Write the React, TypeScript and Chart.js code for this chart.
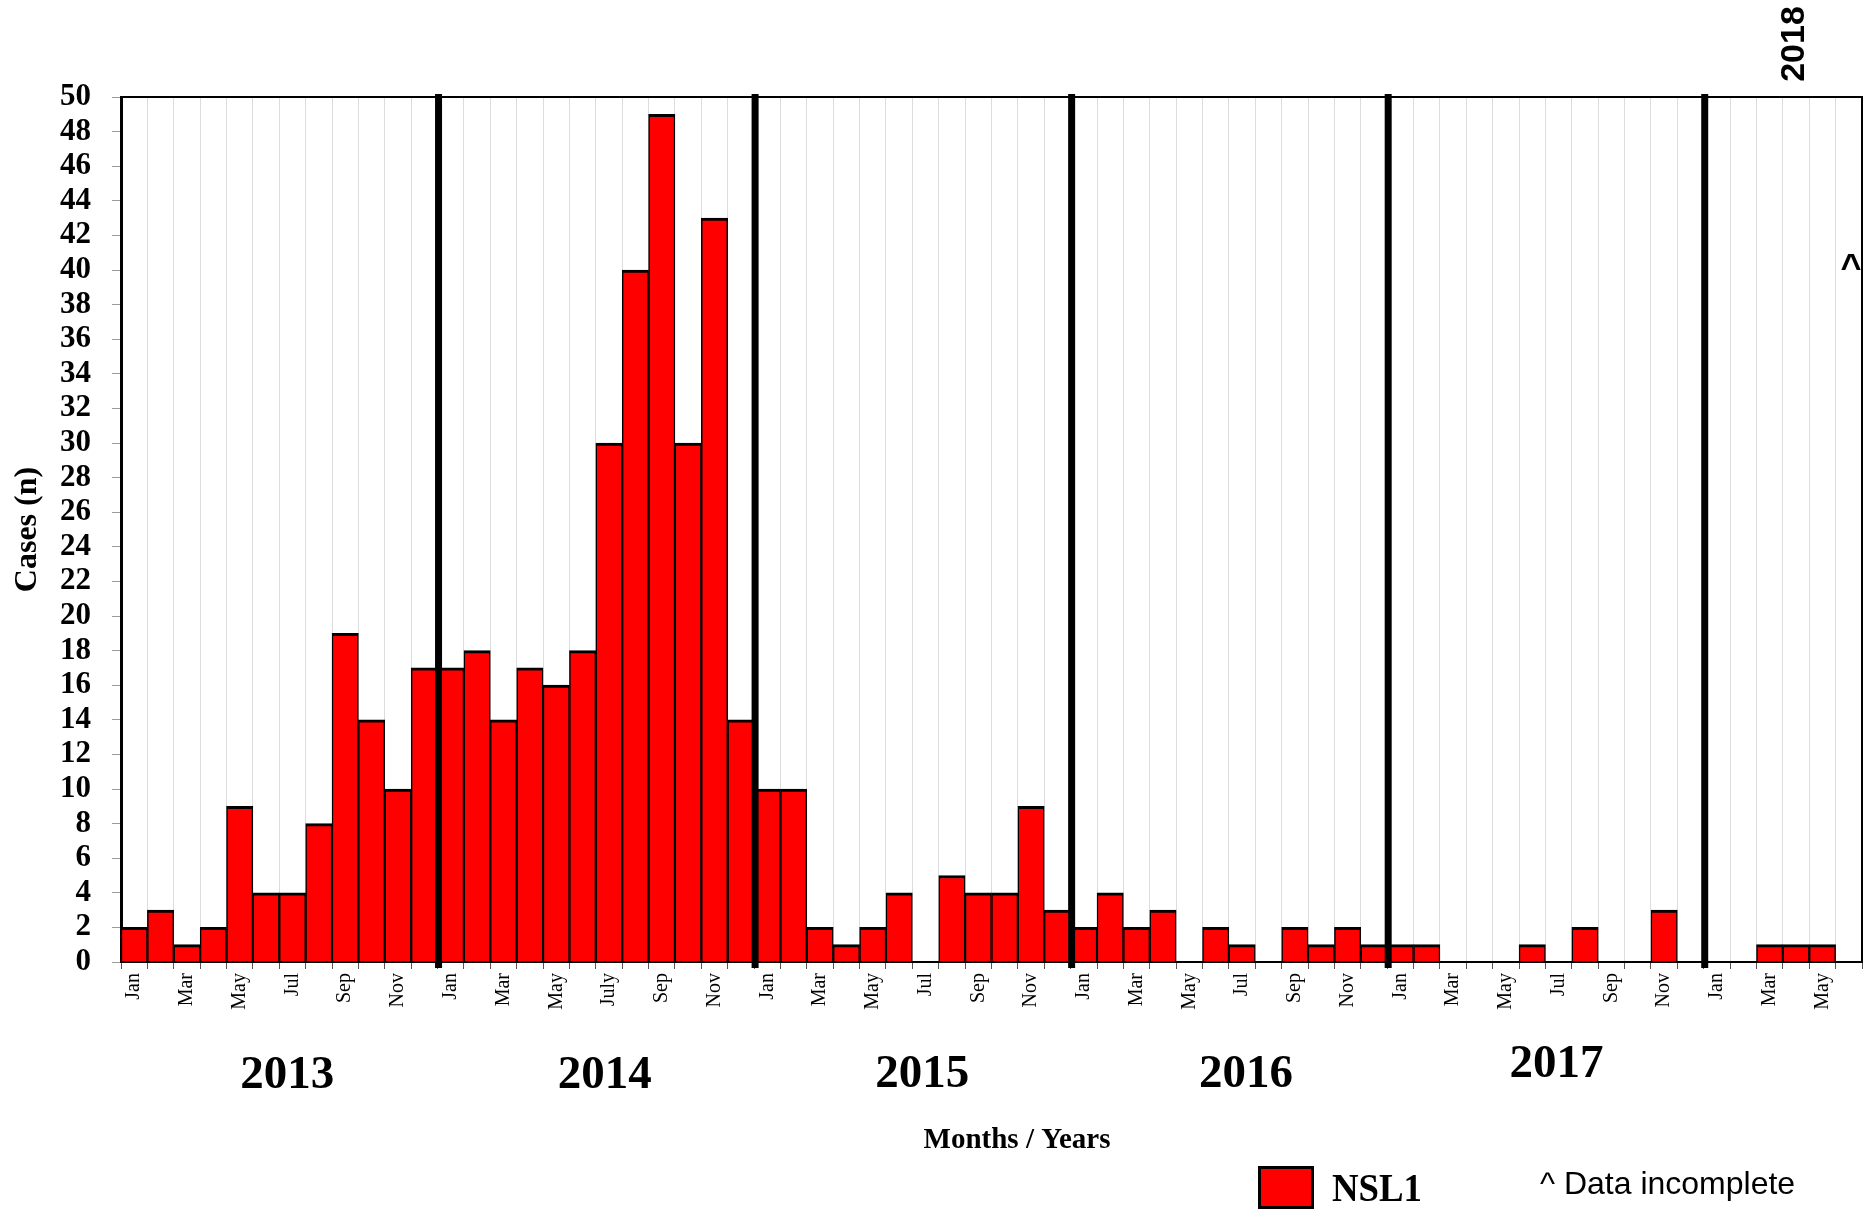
import React, { useEffect, useRef } from 'react';
import { Chart, registerables } from 'chart.js';

Chart.register(...registerables);

// ---------- data ----------
const YEARS = ['2013', '2014', '2015', '2016', '2017', '2018'];
const MONTH_NAMES = ['Jan', 'Feb', 'Mar', 'Apr', 'May', 'Jun', 'Jul', 'Aug', 'Sep', 'Oct', 'Nov', 'Dec'];

const TICKS_STD = ['Jan', '', 'Mar', '', 'May', '', 'Jul', '', 'Sep', '', 'Nov', ''];
const TICKS_2014 = ['Jan', '', 'Mar', '', 'May', '', 'July', '', 'Sep', '', 'Nov', ''];
const TICKS_2018 = ['Jan', '', 'Mar', '', 'May', ''];

const cases2013 = [2, 3, 1, 2, 9, 4, 4, 8, 19, 14, 10, 17];
const cases2014 = [17, 18, 14, 17, 16, 18, 30, 40, 49, 30, 43, 14];
const cases2015 = [10, 10, 2, 1, 2, 4, 0, 5, 4, 4, 9, 3];
const cases2016 = [2, 4, 2, 3, 0, 2, 1, 0, 2, 1, 2, 1];
const cases2017 = [1, 1, 0, 0, 0, 1, 0, 2, 0, 0, 3, 0];
const cases2018 = [0, 0, 1, 1, 1, 0];

const SERIES_LABEL = 'NSL1';
const Y_TITLE = 'Cases (n)';
const X_TITLE = 'Months / Years';
const NOTE = '^ Data incomplete';
const Y_MAX = 50;
const Y_STEP = 2;

// ---------- derived ----------
const yearValues = [cases2013, cases2014, cases2015, cases2016, cases2017, cases2018];
const yearTicks = [TICKS_STD, TICKS_2014, TICKS_STD, TICKS_STD, TICKS_STD, TICKS_2018];
const values: number[] = ([] as number[]).concat(...yearValues);
const tickLabels: string[] = ([] as string[]).concat(...yearTicks);
const categories: string[] = [];
const yearStart: number[] = [];
yearValues.forEach((arr, yi) => {
  yearStart.push(categories.length);
  arr.forEach((_, mi) => categories.push(MONTH_NAMES[mi] + ' ' + YEARS[yi]));
});

const SERIF = '"Liberation Serif", "Times New Roman", serif';
const SANS = '"Liberation Sans", Arial, sans-serif';

// layout tweaks for year labels under axis: [dx, baseline]
const YEAR_LABEL_POS: [number, number][] = [
  [8, 1088],
  [9, 1088],
  [10, 1087],
  [17, 1087],
  [11, 1077],
];

const overlayPlugin = {
  id: 'overlay',
  afterDatasetsDraw(chart: any) {
    const { ctx, chartArea: ca, scales } = chart;
    const x = scales.x;
    ctx.save();
    // year divider lines
    ctx.fillStyle = '#000';
    for (let yi = 1; yi < yearStart.length; yi++) {
      const idx = yearStart[yi];
      const bx = (x.getPixelForValue(idx - 1) + x.getPixelForValue(idx)) / 2 + 1;
      ctx.fillRect(bx - 3.5, ca.top - 3, 7, ca.bottom - ca.top + 9);
    }
    // top + right frame
    ctx.strokeStyle = '#000';
    ctx.lineWidth = 2;
    ctx.beginPath();
    ctx.moveTo(ca.left, ca.top);
    ctx.lineTo(ca.right, ca.top);
    ctx.lineTo(ca.right, ca.bottom);
    ctx.stroke();
    ctx.restore();
  },
  afterDraw(chart: any) {
    const { ctx, chartArea: ca, scales } = chart;
    const x = scales.x;
    ctx.save();
    ctx.fillStyle = '#000';
    ctx.textBaseline = 'alphabetic';

    // year labels (all full years)
    ctx.font = `bold 47px ${SERIF}`;
    ctx.textAlign = 'center';
    for (let yi = 0; yi < YEAR_LABEL_POS.length; yi++) {
      const s = yearStart[yi];
      const n = yearValues[yi].length;
      const cx = x.getPixelForValue(s + (n - 1) / 2) + YEAR_LABEL_POS[yi][0];
      ctx.fillText(YEARS[yi], cx, YEAR_LABEL_POS[yi][1]);
    }

    // last (incomplete) year, rotated above plot
    ctx.save();
    ctx.translate(ca.right - 58, 44);
    ctx.rotate(-Math.PI / 2);
    ctx.font = `bold 34px ${SANS}`;
    ctx.textAlign = 'center';
    ctx.fillText(YEARS[YEARS.length - 1], 0, 0);
    ctx.restore();

    // caret marker
    ctx.font = `bold 36px ${SANS}`;
    ctx.textAlign = 'center';
    ctx.fillText('^', ca.right - 11, 279);

    // x-axis title
    ctx.font = `bold 29px ${SERIF}`;
    ctx.textAlign = 'center';
    ctx.fillText(X_TITLE, 1017, 1148);

    // legend
    ctx.fillStyle = '#ff0000';
    ctx.fillRect(1258, 1166, 56, 43);
    ctx.strokeStyle = '#000';
    ctx.lineWidth = 3;
    ctx.strokeRect(1259.5, 1167.5, 53, 40);
    ctx.fillStyle = '#000';
    ctx.font = `bold 40px ${SERIF}`;
    ctx.textAlign = 'left';
    ctx.fillText(SERIES_LABEL, 1332, 1201, 90);

    ctx.font = `32px ${SANS}`;
    ctx.fillText(NOTE, 1540, 1194);
    ctx.restore();
  },
};

export default function App() {
  const canvasRef = useRef<HTMLCanvasElement | null>(null);

  useEffect(() => {
    const canvas = canvasRef.current;
    if (!canvas) return;
    const chart = new Chart(canvas, {
      type: 'bar',
      data: {
        labels: categories,
        datasets: [
          {
            label: SERIES_LABEL,
            data: values,
            backgroundColor: '#ff0000',
            borderColor: '#000000',
            borderWidth: { top: 3, left: 1.5, right: 1.5, bottom: 0 },
            borderSkipped: 'start',
            barPercentage: 1,
            categoryPercentage: 1,
          },
        ],
      },
      options: {
        responsive: false,
        animation: false,
        layout: { padding: { left: 0, right: 7, top: 97, bottom: 0 } },
        plugins: {
          legend: { display: false },
          tooltip: { enabled: false },
        },
        scales: {
          x: {
            type: 'category',
            offset: true,
            grid: {
              display: true,
              offset: true,
              drawOnChartArea: true,
              color: '#dcdcdc',
              lineWidth: 1,
              tickLength: 7,
              tickColor: '#555555',
            },
            border: { display: true, color: '#000000', width: 2 },
            ticks: {
              autoSkip: false,
              minRotation: 90,
              maxRotation: 90,
              padding: 4,
              color: '#000000',
              font: { family: SERIF, size: 20 },
              callback: (_v: any, i: number) => tickLabels[i],
            },
            afterFit: (scale: any) => {
              scale.height = 248;
              scale.paddingLeft = 0;
              scale.paddingRight = 0;
            },
          },
          y: {
            min: 0,
            max: Y_MAX,
            ticks: {
              stepSize: Y_STEP,
              autoSkip: false,
              padding: 21,
              color: '#000000',
              font: { family: SERIF, size: 31, weight: 'bold' },
            },
            grid: {
              display: true,
              drawOnChartArea: false,
              tickLength: 9,
              tickColor: '#9a9a9a',
            },
            border: { display: true, color: '#000000', width: 3 },
            title: {
              display: true,
              text: Y_TITLE,
              color: '#000000',
              font: { family: SERIF, size: 32, weight: 'bold' },
              padding: { top: 9, bottom: 0 },
            },
            afterFit: (scale: any) => {
              scale.width = 121;
              scale.paddingTop = 0;
              scale.paddingBottom = 0;
            },
          },
        },
      },
      plugins: [overlayPlugin],
    } as any);
    return () => chart.destroy();
  }, []);

  return (
    <div style={{ position: 'fixed', left: 0, top: 0, width: 1869, height: 1210, background: '#fff' }}>
      <canvas ref={canvasRef} width={1869} height={1210} style={{ display: 'block' }} />
    </div>
  );
}
